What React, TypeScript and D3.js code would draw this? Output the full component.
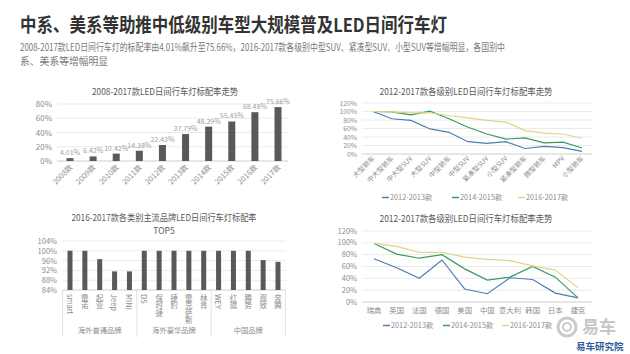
import React from "react";
import * as d3 from "d3";

const W = 630, H = 354;
const FONT = "'Noto Sans CJK SC', 'Noto Sans', sans-serif";

// Chart 1
const years = ["2008款", "2009款", "2010款", "2011款", "2012款", "2013款", "2014款", "2015款", "2016款", "2017款"];
const yearRates = [4.01, 6.42, 10.42, 14.38, 22.43, 37.79, 48.29, 55.45, 68.48, 75.66];
const c1Ticks = [0, 20, 40, 60, 80];

// Chart 2
const segments = ["大型轿车", "中大型轿车", "中大型SUV", "大型SUV", "中型轿车", "中型SUV", "紧凑型SUV", "小型SUV", "紧凑型轿车", "微型轿车", "MPV", "小型轿车"];
const seg1213 = [100, 83, 79, 59, 51, 29, 25, 29, 13, 18, 15, 6];
const seg1415 = [100, 99, 92, 101, 83, 63, 47, 35, 38, 26, 28, 14];
const seg1617 = [100, 99, 97, 97, 90, 85, 79, 75, 55, 49, 47, 37];
const seriesNames = ["2012-2013款", "2014-2015款", "2016-2017款"];
const seriesColors = ["#4a7fb5", "#3a9a62", "#e0d68a"];
const lineTicks = [0, 20, 40, 60, 80, 100, 120];

// Chart 3
const brands = ["smart", "雷诺", "起亚", "Jeep", "MINI", "DS", "保时捷", "捷豹", "雷克萨斯", "林肯", "WEY", "红旗", "腾势", "观致", "奔腾"];
const brandRates = [100, 100, 96.6, 91.6, 91.6, 100, 100, 100, 100, 100, 100, 100, 100, 96.2, 95.5];
const brandGroups = ["海外普通品牌", "海外豪华品牌", "中国品牌"];
const groupSizes = [5, 5, 5];
const c3Ticks = [84, 88, 92, 96, 100, 104];

// Chart 4
const countries = ["瑞典", "英国", "法国", "德国", "美国", "中国", "意大利", "韩国", "日本", "捷克"];
const cty1213 = [73, 58, 40, 71, 22, 14, 41, 38, 15, 7];
const cty1415 = [99, 81, 74, 80, 56, 37, 42, 60, 42, 7];
const cty1617 = [99, 94, 84, 84, 76, 72, 70, 61, 54, 24];

const GRID = "#e6e6e6";
const AXIS_TXT = "#8c8c8c";
const TITLE_TXT = "#595959";

function FitText({ x, y, w, size, fill, children, anchor = "start", weight }:
  { x: number; y: number; w: number; size: number; fill: string; children: string; anchor?: string; weight?: string }) {
  return (
    <text x={x} y={y} fontSize={size} fill={fill} textAnchor={anchor as any} fontWeight={weight}
      textLength={w} lengthAdjust="spacingAndGlyphs">{children}</text>
  );
}

function Chart1() {
  const x = d3.scalePoint<string>().domain(years).range([70, 278]);
  const y = d3.scaleLinear().domain([0, 80]).range([161, 104]);
  const bw = 7;
  return (
    <g>
      <FitText x={165} y={95} w={146} size={9.5} fill={TITLE_TXT} anchor="middle">2008-2017款LED日间行车灯标配率走势</FitText>
      {c1Ticks.map(t => (
        <g key={t}>
          <line x1={57} x2={288} y1={y(t)} y2={y(t)} stroke={GRID} strokeWidth={0.8} />
          <text x={52} y={y(t) + 3} textAnchor="end" fontSize={8} fill={AXIS_TXT}>{t}%</text>
        </g>
      ))}
      <line x1={57} x2={288} y1={y(0)} y2={y(0)} stroke="#d0d0d0" strokeWidth={0.8} />
      {years.map((yr, i) => (
        <g key={yr}>
          <rect x={x(yr)! - bw / 2} y={y(yearRates[i])} width={bw} height={y(0) - y(yearRates[i])} fill="#595959" />
          <text x={x(yr)} y={y(yearRates[i]) - 3} textAnchor="middle" fontSize={7} fill="#a0a0a0">{yearRates[i].toFixed(2)}%</text>
          <text transform={`translate(${x(yr)! + 3},${y(0) + 7}) rotate(-45)`} textAnchor="end" fontSize={7.5} fill={AXIS_TXT}>{yr}</text>
        </g>
      ))}
    </g>
  );
}

function LineChart({ cats, data, x0, x1, y0, y1, title, titleY, rotate, legendY, legendX }:
  { cats: string[]; data: number[][]; x0: number; x1: number; y0: number; y1: number; title: string; titleY: number; rotate: boolean; legendY: number; legendX: number[] }) {
  const x = d3.scalePoint<string>().domain(cats).range([x0, x1]);
  const y = d3.scaleLinear().domain([0, 120]).range([y0, y1]);
  const line = d3.line<number>().x((_, i) => x(cats[i])!).y(d => y(d));
  const tickSize = (y0 - y1) / 6 < 10 ? 6.8 : 7.5;
  return (
    <g>
      <FitText x={466} y={titleY} w={173} size={9.5} fill={TITLE_TXT} anchor="middle">{title}</FitText>
      {lineTicks.map(t => (
        <g key={t}>
          <line x1={362} x2={592} y1={y(t)} y2={y(t)} stroke={GRID} strokeWidth={0.8} />
          <text x={357} y={y(t) + 2.5} textAnchor="end" fontSize={tickSize} fill={AXIS_TXT}>{t}%</text>
        </g>
      ))}
      <line x1={362} x2={592} y1={y(0)} y2={y(0)} stroke="#d0d0d0" strokeWidth={0.8} />
      {data.map((d, k) => (
        <path key={k} d={line(d) || ""} fill="none" stroke={seriesColors[k]} strokeWidth={1.2} />
      ))}
      {cats.map(c => rotate ? (
        <text key={c} transform={`translate(${x(c)! + 2},${y0 + 5}) rotate(-45)`} textAnchor="end" fontSize={6.8} fill={AXIS_TXT}>{c}</text>
      ) : (
        <text key={c} x={x(c)} y={y0 + 11} textAnchor="middle" fontSize={7.3} fill={AXIS_TXT}>{c}</text>
      ))}
      {seriesNames.map((s, k) => (
        <g key={s}>
          <line x1={legendX[k]} x2={legendX[k] + 7} y1={legendY - 2.5} y2={legendY - 2.5} stroke={seriesColors[k]} strokeWidth={1.5} />
          <text x={legendX[k] + 8} y={legendY} fontSize={7.3} fill={AXIS_TXT}>{s}</text>
        </g>
      ))}
    </g>
  );
}

function Chart3() {
  const x = d3.scalePoint<string>().domain(brands).range([70, 278]);
  const y = d3.scaleLinear().domain([84, 104]).range([290, 241]);
  const bw = 5;
  const step = x.step();
  const bounds: number[] = [];
  let acc = 0;
  bounds.push(x(brands[0])! - step / 2);
  groupSizes.forEach(n => { acc += n; bounds.push(x(brands[acc - 1])! + step / 2); });
  return (
    <g>
      <FitText x={164} y={221} w={185} size={9.2} fill={TITLE_TXT} anchor="middle">2016-2017款各类别主流品牌LED日间行车灯标配率</FitText>
      <text x={164} y={234} textAnchor="middle" fontSize={8.5} fill={TITLE_TXT}>TOP5</text>
      {c3Ticks.map(t => (
        <g key={t}>
          <line x1={63} x2={286} y1={y(t)} y2={y(t)} stroke={GRID} strokeWidth={0.8} />
          <text x={57} y={y(t) + 3} textAnchor="end" fontSize={7.5} fill={AXIS_TXT}>{t}%</text>
        </g>
      ))}
      <line x1={63} x2={286} y1={y(84)} y2={y(84)} stroke="#d0d0d0" strokeWidth={0.8} />
      {bounds.map((b, i) => (
        <line key={i} x1={b} x2={b} y1={y(84)} y2={337} stroke="#dcdcdc" strokeWidth={0.8} />
      ))}
      {brands.map((b, i) => (
        <g key={b}>
          <rect x={x(b)! - bw / 2} y={y(brandRates[i])} width={bw} height={y(84) - y(brandRates[i])} fill="#595959" />
          <text x={x(b)} y={294} fontSize={7.5} fill={AXIS_TXT} style={{ writingMode: "vertical-rl" } as any} textAnchor="start">{b}</text>
        </g>
      ))}
      {brandGroups.map((g, i) => (
        <text key={g} x={(bounds[i] + bounds[i + 1]) / 2} y={333} textAnchor="middle" fontSize={7.3} fill={AXIS_TXT}>{g}</text>
      ))}
    </g>
  );
}

function Logo() {
  return (
    <g>
      <circle cx={567} cy={327} r={9} fill="none" stroke="#cacaca" strokeWidth={3} />
      <circle cx={567} cy={327} r={4} fill="none" stroke="#cacaca" strokeWidth={2} />
      <text x={582} y={333} fontSize={17} fontWeight="bold" fill="#c6c6c6">易车</text>
      <text x={576} y={350} fontSize={9.5} fontWeight="bold" fill="#2f5b9c">易车研究院</text>
    </g>
  );
}

export default function App() {
  return (
    <svg width={W} height={H} style={{ position: "absolute", left: 0, top: 0, background: "#fff" }} fontFamily={FONT}>
      <rect width={W} height={H} fill="#fff" />
      <FitText x={20} y={32} w={427} size={19} fill="#333" weight="bold">中系、美系等助推中低级别车型大规模普及LED日间行车灯</FitText>
      <FitText x={20} y={51} w={485} size={9.8} fill="#7a7a7a">2008-2017款LED日间行车灯的标配率由4.01%飙升至75.66%，2016-2017款各级别中型SUV、紧凑型SUV、小型SUV等增幅明显，各国别中</FitText>
      <text x={20} y={65} fontSize={9.8} fill="#7a7a7a">系、美系等增幅明显</text>
      <Chart1 />
      <LineChart cats={segments} data={[seg1213, seg1415, seg1617]} x0={373} x1={582} y0={154} y1={103}
        title="2012-2017款各级别LED日间行车灯标配率走势" titleY={95} rotate={true} legendY={200} legendX={[382, 452, 518]} />
      <LineChart cats={countries} data={[cty1213, cty1415, cty1617]} x0={374} x1={578} y0={302} y1={231}
        title="2012-2017款各级别LED日间行车灯标配率走势" titleY={222} rotate={false} legendY={328} legendX={[383, 443, 502]} />
      <Chart3 />
      <Logo />
    </svg>
  );
}
